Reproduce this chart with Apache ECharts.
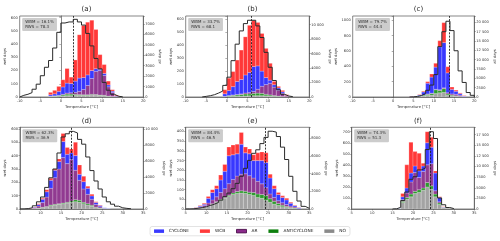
<!DOCTYPE html>
<html>
<head>
<meta charset="utf-8">
<script src="https://cdn.jsdelivr.net/npm/echarts@6.0.0/dist/echarts.min.js"></script>
<style>
html,body{margin:0;padding:0;background:#ffffff;}
#chart{width:500px;height:241px;}
</style>
</head>
<body>
<div id="chart"></div>
<script>
// ---------------- data ----------------
const categories = ['CYCLONE', 'WCB', 'AR', 'ANTICYCLONE', 'NO'];
const panelTitles = ['(a)', '(b)', '(c)', '(d)', '(e)', '(f)'];
const wbmValues = ['16.1%', '33.7%', '79.7%', '62.3%', '84.4%', '74.3%'];
const rwsValues = ['78.3', '68.1', '44.4', '36.9', '46.5', '51.3'];
const medianTemps = [3.0, 5.9, 13.9, 17.5, 24.4, 24.1];

// panel (a): wet days per 1 degC bin, first bin starts at aBinStart
const aBinStart = -3;
const aNO   = [3, 4, 5, 8, 10, 10, 12, 12, 12, 12, 15, 15, 12, 10, 5, 3, 1];
const aANTI = [2, 3, 5, 8, 12, 12, 8, 6, 5, 5, 5, 4, 3, 3, 2, 1, 0];
const aAR   = [2, 2, 3, 5, 8, 10, 15, 25, 40, 70, 120, 175, 185, 150, 70, 30, 5];
const aCYC  = [10, 15, 30, 55, 75, 70, 85, 100, 90, 80, 60, 20, 10, 15, 15, 10, 3];
const aWCB  = [18, 26, 37, 54, 110, 48, 160, 327, 393, 398, 380, 296, 110, 67, 28, 11, 6];
const aAllStart = -10;
const aAll  = [160, 260, 420, 745, 1230, 2040, 2850, 3500, 4700, 6200, 7100, 7200, 7200, 7450, 7200, 6900, 6100, 4900, 3700, 2700, 1400, 650, 260, 70, 20];

// panel (b)
const bBinStart = -1;
const bNO   = [2, 4, 5, 6, 7, 8, 9, 10, 10, 10, 9, 8, 6, 4, 2, 1];
const bANTI = [2, 5, 8, 10, 12, 15, 15, 18, 20, 18, 12, 8, 5, 3, 2, 1];
const bAR   = [1, 2, 3, 4, 5, 8, 10, 15, 30, 55, 75, 90, 65, 45, 25, 8];
const bCYC  = [20, 39, 64, 100, 111, 139, 156, 192, 180, 117, 54, 24, 19, 18, 11, 2];
const bWCB  = [31, 95, 116, 165, 227, 294, 363, 355, 335, 290, 225, 130, 25, 12, 11, 6];
const bAllStart = -6;
const bAll  = [90, 180, 320, 550, 820, 1600, 2740, 5020, 7300, 9130, 10140, 10600, 10600, 9820, 8220, 6170, 4110, 2280, 1000, 370, 140, 50];

// panel (c)
const cBinStart = 4;
const cNO   = [3, 8, 12, 15, 20, 25, 45, 55, 60, 25, 15, 10, 5, 2];
const cANTI = [0, 2, 5, 10, 15, 20, 50, 30, 50, 15, 10, 5, 3, 1];
const cAR   = [0, 0, 0, 0, 5, 5, 5, 10, 10, 15, 15, 20, 15, 5];
const cCYC  = [4, 2, 10, 40, 140, 210, 290, 560, 590, 260, 60, 40, 20, 5];
const cWCB  = [3, 0, 5, 10, 20, 40, 50, 80, 260, 80, 30, 15, 10, 5];
const cAllStart = 4;
const cAll  = [50, 150, 400, 900, 1800, 3200, 6000, 13500, 17500, 20300, 17800, 12400, 7000, 3900, 1200, 450];

// panel (d)
const dBinStart = 7;
const dNO   = [1, 2, 5, 10, 15, 25, 30, 35, 40, 45, 50, 55, 50, 40, 30, 20, 10, 5, 2, 1];
const dANTI = [0, 1, 2, 3, 4, 5, 5, 5, 5, 5, 10, 15, 15, 10, 10, 8, 4, 2, 1, 0];
const dAR   = [1, 5, 15, 35, 70, 125, 200, 260, 340, 290, 310, 220, 150, 100, 70, 45, 20, 10, 3, 1];
const dCYC  = [2, 5, 12, 25, 40, 60, 55, 55, 120, 70, 50, 110, 45, 55, 45, 25, 15, 10, 3, 1];
const dWCB  = [1, 2, 6, 7, 16, 15, 10, 20, 60, 50, 30, 100, 70, 40, 15, 12, 6, 3, 1, 0];
const dAllStart = 5;
const dAll  = [10, 50, 150, 400, 900, 1500, 2700, 3900, 5000, 7000, 9000, 9400, 9700, 9500, 8700, 8100, 6500, 4800, 3500, 2500, 1500, 900, 600, 350, 150, 80, 30];

// panel (e)
const eBinStart = 6;
const eNO   = [1, 3, 6, 10, 15, 25, 35, 45, 55, 65, 75, 80, 82, 80, 75, 70, 60, 55, 45, 35, 25, 18, 12, 8, 5, 3, 1];
const eANTI = [0, 0, 0, 0, 1, 2, 3, 5, 5, 6, 8, 10, 12, 12, 12, 15, 18, 20, 25, 18, 15, 10, 8, 5, 3, 2, 0];
const eAR   = [1, 2, 5, 8, 15, 20, 25, 35, 45, 60, 70, 80, 86, 90, 85, 75, 65, 55, 40, 25, 20, 15, 12, 10, 7, 5, 2];
const eCYC  = [1, 2, 4, 7, 24, 38, 42, 65, 90, 144, 127, 115, 155, 108, 113, 90, 107, 120, 130, 82, 45, 32, 28, 24, 15, 7, 4];
const eWCB  = [0, 1, 3, 5, 10, 15, 15, 25, 35, 45, 50, 50, 60, 30, 25, 30, 40, 45, 50, 20, 15, 10, 8, 8, 5, 3, 1];
const eAllStart = 5;
const eAll  = [10, 30, 80, 150, 250, 400, 550, 750, 1000, 1400, 1800, 2300, 2900, 3700, 4600, 5500, 6300, 6700, 7400, 8100, 8800, 8700, 8200, 7000, 5600, 3700, 2000, 900, 300, 80];

// panel (f)
const fBinStart = 16;
const fNO   = [5, 60, 90, 110, 140, 150, 170, 200, 180, 110, 40, 10];
const fANTI = [1, 10, 15, 25, 20, 25, 20, 40, 30, 25, 15, 3];
const fAR   = [1, 15, 40, 110, 170, 110, 150, 160, 200, 30, 10, 2];
const fCYC  = [2, 25, 45, 80, 60, 60, 50, 200, 150, 160, 40, 3];
const fWCB  = [1, 30, 210, 280, 130, 160, 25, 100, 90, 20, 5, 2];
const fAllStart = 15;
const fAll  = [50, 400, 2000, 4000, 7000, 7600, 9200, 9600, 14000, 18200, 16600, 2600, 1000, 350, 100];

// axis ranges / tick steps
const xRanges = [[-10, 20], [-10, 20], [-10, 20], [5, 35], [5, 35], [5, 35]];
const leftMax = [612, 625, 1057, 612, 422, 740];
const leftStep = [100, 100, 200, 100, 50, 100];
const rightMax = [7770, 11190, 21710, 10210, 9245, 19240];
const rightStep = [1000, 2000, 2500, 2000, 2000, 2500];

// ---------------- layout & style ----------------
const gridBoxes = [
  [19.7, 16, 123.6, 81], [185.7, 16, 123.6, 81], [352.7, 16, 121.6, 81],
  [20, 127.3, 123.3, 81.7], [185.7, 127.3, 123.6, 81.7], [351.7, 127.3, 122.6, 81.7]
];
const leftNameGap = [8, 8, 10, 8, 8, 8];
const rightNameGap = [11, 14, 14, 14, 10, 14];
const FONT = 'DejaVu Sans';
const colors = {
  CYCLONE: '#3838ff', WCB: '#ff3838', AR: '#913a91', ANTICYCLONE: '#2e9a2e', NO: '#a3a3a3'
};
const legendColors = {
  CYCLONE: '#3a3aff', WCB: '#ff3a3a', AR: '#8a2a8a', ANTICYCLONE: '#0f800f', NO: '#8a8a8a'
};

const panelData = [
  { start: aBinStart, NO: aNO, ANTICYCLONE: aANTI, AR: aAR, CYCLONE: aCYC, WCB: aWCB, allStart: aAllStart, all: aAll },
  { start: bBinStart, NO: bNO, ANTICYCLONE: bANTI, AR: bAR, CYCLONE: bCYC, WCB: bWCB, allStart: bAllStart, all: bAll },
  { start: cBinStart, NO: cNO, ANTICYCLONE: cANTI, AR: cAR, CYCLONE: cCYC, WCB: cWCB, allStart: cAllStart, all: cAll },
  { start: dBinStart, NO: dNO, ANTICYCLONE: dANTI, AR: dAR, CYCLONE: dCYC, WCB: dWCB, allStart: dAllStart, all: dAll },
  { start: eBinStart, NO: eNO, ANTICYCLONE: eANTI, AR: eAR, CYCLONE: eCYC, WCB: eWCB, allStart: eAllStart, all: eAll },
  { start: fBinStart, NO: fNO, ANTICYCLONE: fANTI, AR: fAR, CYCLONE: fCYC, WCB: fWCB, allStart: fAllStart, all: fAll }
];
const stackOrder = ['NO', 'ANTICYCLONE', 'AR', 'CYCLONE', 'WCB'];

function fmtRight(v) {
  if (v >= 10000) return String(v).replace(/\B(?=(\d{3})+(?!\d))/g, ' ');
  return String(v);
}

function renderBar(params, api) {
  const lo = api.value(0), hi = api.value(1), b = api.value(2), t = api.value(3);
  if (t <= b) return null;
  const p0 = api.coord([lo, t]);
  const p1 = api.coord([hi, b]);
  return {
    type: 'rect',
    shape: { x: p0[0], y: p0[1], width: p1[0] - p0[0], height: p1[1] - p0[1] },
    style: { fill: params.seriesName ? colors[params.seriesName] : '#000', stroke: 'rgba(255,255,255,0.55)', lineWidth: 0.4 }
  };
}

const grids = [], xAxes = [], yAxes = [], series = [], titles = [], graphics = [];

panelData.forEach((pd, i) => {
  const [gl, gt, gw, gh] = gridBoxes[i];
  grids.push({ left: gl, top: gt, width: gw, height: gh, show: true, borderColor: '#555', borderWidth: 0.7, backgroundColor: 'transparent', outerBoundsMode: 'none', containLabel: false });
  xAxes.push({
    gridIndex: i, type: 'value', min: xRanges[i][0], max: xRanges[i][1], interval: 5,
    axisLine: { show: true, onZero: false, lineStyle: { color: '#555', width: 0.7 } },
    axisTick: { show: true, length: 1.5, lineStyle: { color: '#555', width: 0.5 } },
    axisLabel: { fontSize: 3.6, margin: 2, color: '#333', fontFamily: FONT },
    splitLine: { show: false },
    name: 'Temperature [°C]', nameLocation: 'middle', nameGap: 8,
    nameTextStyle: { fontSize: 3.8, color: '#333', fontFamily: FONT }
  });
  yAxes.push({
    gridIndex: i, type: 'value', position: 'left', min: 0, max: leftMax[i], interval: leftStep[i],
    axisLine: { show: true, lineStyle: { color: '#555', width: 0.7 } },
    axisTick: { show: true, length: 1.5, lineStyle: { color: '#555', width: 0.5 } },
    axisLabel: { fontSize: 3.6, margin: 2, color: '#333', fontFamily: FONT,
      formatter: v => (Math.abs(v % leftStep[i]) < 1e-6 ? String(v) : '') },
    splitLine: { show: false },
    name: 'wet days', nameLocation: 'middle', nameGap: leftNameGap[i],
    nameTextStyle: { fontSize: 3.8, color: '#333', fontFamily: FONT }
  });
  yAxes.push({
    gridIndex: i, type: 'value', position: 'right', min: 0, max: rightMax[i], interval: rightStep[i],
    alignTicks: false,
    axisLine: { show: true, lineStyle: { color: '#555', width: 0.7 } },
    axisTick: { show: true, length: 1.5, lineStyle: { color: '#555', width: 0.5 } },
    axisLabel: { fontSize: 3.6, margin: 2, color: '#333', fontFamily: FONT,
      formatter: v => (Math.abs(v % rightStep[i]) < 1e-6 ? fmtRight(v) : '') },
    splitLine: { show: false },
    name: 'all days', nameLocation: 'middle', nameGap: rightNameGap[i],
    nameTextStyle: { fontSize: 3.8, color: '#333', fontFamily: FONT }
  });

  // stacked bars
  const n = pd.NO.length;
  const base = new Array(n).fill(0);
  stackOrder.forEach(cat => {
    const vals = pd[cat];
    const data = [];
    for (let k = 0; k < n; k++) {
      const lo = pd.start + k;
      data.push([lo, lo + 1, base[k], base[k] + vals[k]]);
      base[k] += vals[k];
    }
    series.push({
      type: 'custom', name: cat, xAxisIndex: i, yAxisIndex: 2 * i,
      renderItem: renderBar, data: data, clip: true,
      encode: { x: [0, 1], y: [2, 3] },
      itemStyle: { color: colors[cat] }, silent: true, animation: false
    });
  });

  // all-days step outline
  const stepPts = [[pd.allStart, 0]];
  pd.all.forEach((v, k) => {
    stepPts.push([pd.allStart + k, v]);
    stepPts.push([pd.allStart + k + 1, v]);
  });
  stepPts.push([pd.allStart + pd.all.length, 0]);
  series.push({
    type: 'line', name: 'all', xAxisIndex: i, yAxisIndex: 2 * i + 1,
    data: stepPts, showSymbol: false, symbol: 'none', animation: false, silent: true,
    lineStyle: { color: '#2a2a2a', width: 1.0 }, clip: true, z: 5,
    markLine: {
      silent: true, symbol: ['none', 'none'], label: { show: false }, animation: false,
      lineStyle: { color: '#222', width: 0.9, type: [2, 1.3] },
      data: [{ xAxis: medianTemps[i] }]
    }
  });

  titles.push({
    text: panelTitles[i], left: gl + gw / 2, top: gt - 15, textAlign: 'center',
    textStyle: { fontSize: 7, fontWeight: 'normal', color: '#222', fontFamily: FONT }
  });
  graphics.push({
    type: 'text', left: gl + 2.5, top: gt + 2, z: 100,
    style: {
      text: 'WBM = ' + wbmValues[i] + '\nRWS = ' + rwsValues[i],
      fontSize: 4, fill: '#333', fontFamily: FONT, lineHeight: 5,
      backgroundColor: '#cccccc', padding: [1.5, 3, 1.5, 3], borderRadius: 1
    }
  });
});

const chart = echarts.init(document.getElementById('chart'), null, { renderer: 'canvas' });
chart.setOption({
  animation: false,
  backgroundColor: '#ffffff',
  textStyle: { fontFamily: FONT },
  title: titles,
  grid: grids,
  xAxis: xAxes,
  yAxis: yAxes,
  series: series,
  graphic: graphics,
  legend: {
    left: 'center', top: 226.5,
    data: categories.map(c => ({
      name: c, icon: 'rect',
      itemStyle: c === 'AR'
        ? { color: legendColors[c], borderColor: '#3d003d', borderWidth: 0.8 }
        : { color: legendColors[c] }
    })),
    itemWidth: 10, itemHeight: 3.5, itemGap: 11,
    textStyle: { fontSize: 4.3, color: '#222', fontFamily: FONT },
    borderColor: '#d0d0d0', borderWidth: 0.6, borderRadius: 2, padding: [2.5, 4],
    selectedMode: false
  }
});
</script>
</body>
</html>
